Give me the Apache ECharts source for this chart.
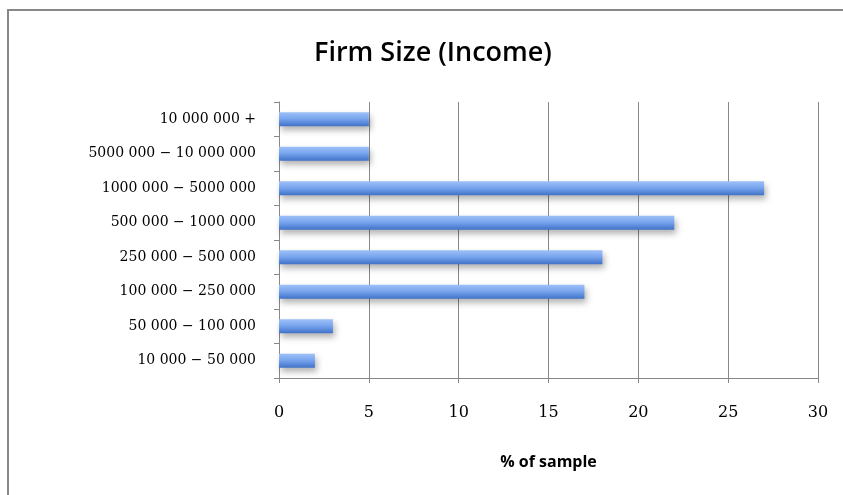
<!DOCTYPE html>
<html>
<head>
<meta charset="utf-8">
<script src="https://cdn.jsdelivr.net/npm/echarts@6/dist/echarts.min.js"></script>
<style>
  html, body { margin: 0; padding: 0; background: #fff; }
  #chart { width: 843px; height: 495px; }
</style>
</head>
<body>
<div id="chart"></div>
<script>
// income brackets, bottom to top
const categories = [
  '10 000 − 50 000',
  '50 000 − 100 000',
  '100 000 − 250 000',
  '250 000 − 500 000',
  '500 000 − 1000 000',
  '1000 000 − 5000 000',
  '5000 000 − 10 000 000',
  '10 000 000 +'
]
const percentSample = [2, 3, 17, 18, 22, 27, 5, 5]
const xTicks = [0, 5, 10, 15, 20, 25, 30]

let chart = echarts.init(document.getElementById('chart'))
chart.setOption({
  animation: false,
  title: {
    text: 'Firm Size (Income)',
    left: 309,
    top: 35,
    textStyle: {
      fontFamily: 'Open Sans',
      fontSize: 27,
      fontWeight: 600,
      color: '#000'
    }
  },
  graphic: [
    {
      type: 'polyline',
      shape: { points: [[8, 495], [8, 10], [843, 10]] },
      style: { stroke: '#888', lineWidth: 2, fill: null }
    }
  ],
  grid: {
    left: 279,
    right: 25,
    top: 102,
    bottom: 117
  },
  xAxis: {
    type: 'value',
    min: xTicks[0],
    max: xTicks[xTicks.length - 1],
    interval: 5,
    name: '% of sample',
    nameLocation: 'middle',
    nameGap: 76,
    nameTextStyle: {
      fontFamily: 'Open Sans',
      fontSize: 16,
      fontWeight: 'bold',
      color: '#000'
    },
    axisLine: { show: true, lineStyle: { color: '#888' } },
    axisTick: { show: true, length: 5, lineStyle: { color: '#888' } },
    axisLabel: {
      margin: 27,
      fontFamily: 'DejaVu Serif',
      fontSize: 16,
      color: '#000'
    },
    splitLine: { show: true, lineStyle: { color: '#888', width: 1 } }
  },
  yAxis: {
    type: 'category',
    data: categories,
    axisLine: { show: true, lineStyle: { color: '#888' } },
    axisTick: { show: true, length: 5, lineStyle: { color: '#888' } },
    axisLabel: {
      margin: 23,
      fontFamily: 'DejaVu Serif',
      fontSize: 14,
      color: '#000'
    }
  },
  series: [
    {
      type: 'bar',
      data: percentSample,
      barWidth: 14,
      itemStyle: {
        color: {
          type: 'linear',
          x: 0, y: 0, x2: 0, y2: 1,
          colorStops: [
            { offset: 0, color: '#9dc0f7' },
            { offset: 0.45, color: '#7aa6ef' },
            { offset: 1, color: '#3f72c8' }
          ]
        },
        shadowColor: 'rgba(0, 0, 0, 0.3)',
        shadowBlur: 6,
        shadowOffsetX: 2,
        shadowOffsetY: 4
      }
    }
  ]
})
</script>
</body>
</html>
